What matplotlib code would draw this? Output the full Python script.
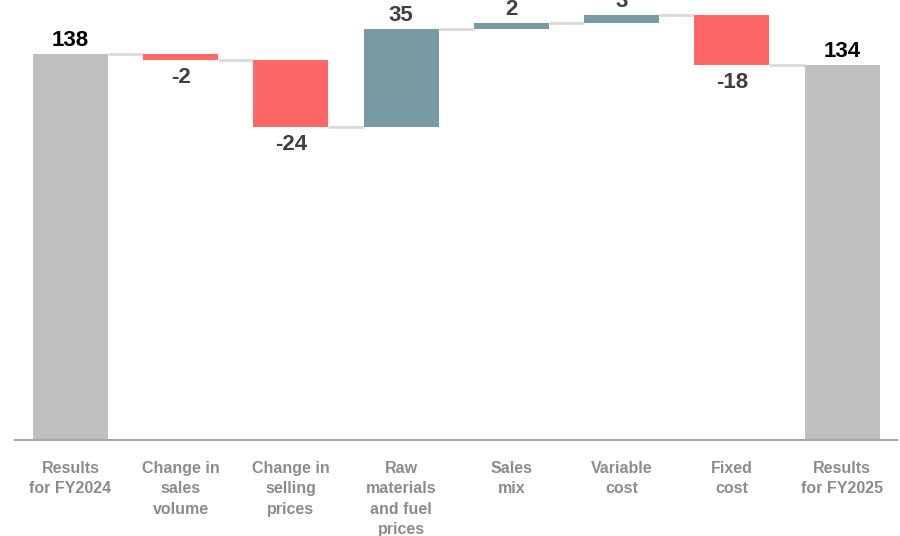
import matplotlib
matplotlib.use("Agg")
import matplotlib.pyplot as plt

plt.rcParams['font.family'] = ['Liberation Sans', 'DejaVu Sans']

categories = ["Results\nfor FY2024", "Change in\nsales\nvolume", "Change in\nselling\nprices",
              "Raw\nmaterials\nand fuel\nprices", "Sales\nmix", "Variable\ncost",
              "Fixed\ncost", "Results\nfor FY2025"]
values = [138, -2, -24, 35, 2, 3, -18, 134]
is_total = [True, False, False, False, False, False, False, True]

GREY = "#BFBFBF"
RED = "#FF6666"
TEAL = "#789BA3"
CONNECTOR = "#D9D9D9"

fig = plt.figure(figsize=(9, 5.36), dpi=100)
ax = fig.add_axes([0.017, 0.179, 0.98, 0.821])

width = 0.68
running = 0
for i, (v, tot) in enumerate(zip(values, is_total)):
    if tot:
        bottom, top = 0, v
        color = GREY
        running = v
    else:
        start = running
        running = start + v
        bottom, top = min(start, running), max(start, running)
        color = TEAL if v > 0 else RED
    ax.bar(i, top - bottom, bottom=bottom, width=width, color=color, zorder=2)

    # value label: above for totals/increases, below for decreases
    if tot:
        ax.annotate(f"{v}", (i, top), xytext=(0, 2), textcoords="offset points",
                    ha="center", va="bottom", fontsize=16, fontweight="bold", color="black")
    elif v > 0:
        ax.annotate(f"{v}", (i, top), xytext=(0, 2), textcoords="offset points",
                    ha="center", va="bottom", fontsize=16, fontweight="bold", color="#404040")
    else:
        ax.annotate(f"{v}", (i, bottom), xytext=(0, -5), textcoords="offset points",
                    ha="center", va="top", fontsize=16, fontweight="bold", color="#404040")

# connector lines between consecutive bars at the running level
level = 0
for i, (v, tot) in enumerate(zip(values, is_total)):
    level = v if tot else level + v
    if i < len(values) - 1:
        ax.plot([i + width / 2, i + 1 - width / 2], [level, level],
                color=CONNECTOR, lw=2, zorder=1, solid_capstyle="butt")

ax.set_xlim(-0.5, 7.5)
ax.set_ylim(0, 157.3)
ax.set_xticks(range(len(categories)))
ax.set_xticklabels(categories, fontsize=11.5, fontweight="bold", color="#8C8C8C",
                   linespacing=1.45, va="top")
ax.tick_params(axis="x", length=0, pad=15)
ax.set_yticks([])
for s in ["top", "right", "left"]:
    ax.spines[s].set_visible(False)
ax.spines["bottom"].set_color("#A6A6A6")
ax.spines["bottom"].set_linewidth(1.5)

fig.savefig("out.png", dpi=100)
